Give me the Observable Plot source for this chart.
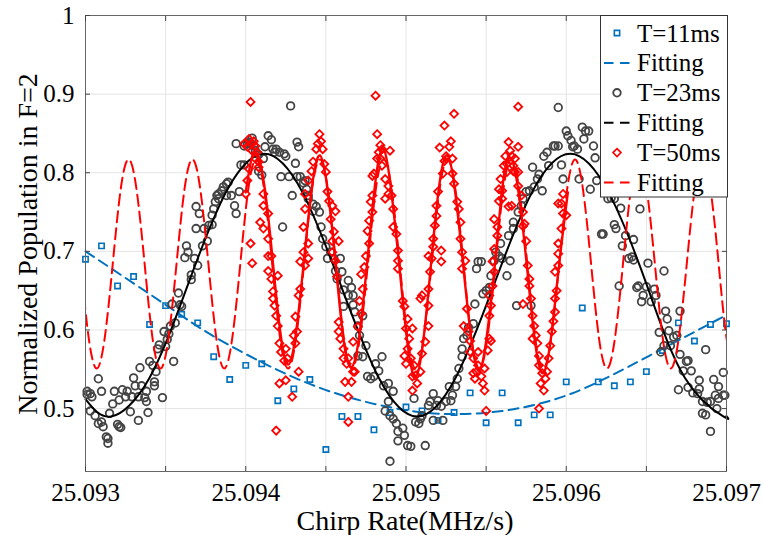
<!DOCTYPE html>
<html><head><meta charset="utf-8">
<script src="https://cdn.jsdelivr.net/npm/d3@7"></script>
<script src="https://cdn.jsdelivr.net/npm/@observablehq/plot@0.6"></script>
<style>
body{margin:0;background:#fff}
svg{display:block}
svg text{font-family:"Liberation Serif","Times New Roman",Times,serif !important;}
</style>
</head><body><div id="chart"></div>
<script>
const FONT = '"Liberation Serif","Times New Roman",Times,serif';
const xLabelTicks = [25.093, 25.094, 25.095, 25.096, 25.097];
const xMinorTicks = [25.093, 25.0935, 25.094, 25.0945, 25.095, 25.0955, 25.096, 25.0965, 25.097];
const yTicks = [0.5, 0.6, 0.7, 0.8, 0.9, 1];
const xTitle = "Chirp Rate(MHz/s)";
const yTitle = "Normalized Population in F=2";
const legendLabels = ["T=11ms", "Fitting", "T=23ms", "Fitting", "T=50ms", "Fitting"];

// T=11ms data
const blueX = [25.0930,25.0931,25.0932,25.0933,25.0934,25.0935,25.0936,25.0937,25.0938,25.0939,25.0940,25.0941,25.0942,25.0943,25.0944,25.0945,25.0946,25.0947,25.0948,25.0949,25.0950,25.0951,25.0952,25.0953,25.0954,25.0955,25.0956,25.0957,25.0958,25.0959,25.0960,25.0961,25.0962,25.0963,25.0964,25.0965,25.0966,25.0967,25.0968,25.0969,25.0970];
const blueY = [0.690,0.707,0.656,0.668,0.607,0.631,0.620,0.609,0.566,0.537,0.555,0.557,0.510,0.525,0.537,0.448,0.490,0.490,0.473,0.495,0.502,0.497,0.485,0.495,0.520,0.482,0.520,0.482,0.492,0.492,0.534,0.628,0.534,0.529,0.534,0.547,0.574,0.609,0.586,0.607,0.608];
// T=11ms fitting
const blueFit = [[25.0930,0.700],[25.0935,0.632],[25.0938,0.592],[25.0942,0.549],[25.0946,0.517],[25.0950,0.498],[25.0953,0.493],[25.0956,0.497],[25.0959,0.510],[25.0962,0.534],[25.0966,0.576],[25.0970,0.619]];

// T=23ms data
const grayPts = [
[25.09301,0.522],[25.09303,0.519],[25.09301,0.518],[25.09304,0.515],[25.09308,0.538],[25.09310,0.522],[25.09303,0.497],[25.09306,0.491],[25.09308,0.481],[25.09310,0.483],[25.09311,0.477],[25.09313,0.464],[25.09314,0.456],[25.09314,0.462],[25.09315,0.494],[25.09317,0.506],[25.09318,0.522],[25.09320,0.480],[25.09321,0.477],[25.09322,0.476],[25.09321,0.511],[25.09323,0.524],[25.09325,0.515],[25.09326,0.522],[25.09328,0.496],[25.09329,0.515],[25.09330,0.539],[25.09331,0.529],[25.09333,0.485],[25.09333,0.515],[25.09334,0.552],[25.09335,0.529],[25.09337,0.514],[25.09338,0.509],[25.09339,0.495],[25.09338,0.522],[25.09340,0.560],[25.09342,0.555],[25.09343,0.534],[25.09343,0.529],[25.09344,0.547],[25.09345,0.576],[25.09348,0.514],[25.09346,0.581],[25.09349,0.598],[25.09350,0.579],[25.09351,0.588],[25.09352,0.595],[25.09353,0.605],[25.09355,0.560],[25.09354,0.633],[25.09356,0.609],[25.09358,0.647],[25.09359,0.632],[25.09360,0.630],[25.09362,0.692],[25.09363,0.707],[25.09364,0.699],[25.09366,0.670],[25.09366,0.664],[25.09368,0.691],[25.09370,0.682],[25.09369,0.729],[25.09369,0.757],[25.09371,0.748],[25.09373,0.707],[25.09374,0.729],[25.09376,0.713],[25.09377,0.733],[25.09379,0.734],[25.09379,0.746],[25.09380,0.754],[25.09382,0.771],[25.09381,0.763],
[25.09383,0.767],[25.09383,0.773],[25.09385,0.777],[25.09386,0.782],[25.09388,0.786],[25.09389,0.788],[25.09388,0.771],[25.09391,0.771],[25.09393,0.758],[25.09394,0.748],[25.09396,0.776],[25.09394,0.837],[25.09397,0.810],[25.09399,0.810],[25.09399,0.834],[25.09401,0.837],[25.09402,0.839],[25.09404,0.844],[25.09405,0.834],[25.09406,0.828],[25.09408,0.823],[25.09408,0.802],[25.09410,0.797],[25.09411,0.818],[25.09412,0.833],[25.09414,0.847],[25.09416,0.842],[25.09417,0.830],[25.09418,0.826],[25.09419,0.830],[25.09421,0.826],[25.09422,0.795],[25.09423,0.731],[25.09424,0.824],[25.09425,0.821],[25.09427,0.795],[25.09428,0.885],[25.09429,0.771],[25.09431,0.812],[25.09432,0.839],[25.09433,0.833],[25.09432,0.795],[25.09434,0.795],[25.09436,0.787],[25.09437,0.790],[25.09438,0.779],[25.09439,0.771],[25.09439,0.767],[25.09442,0.760],[25.09442,0.751],[25.09444,0.757],[25.09446,0.750],[25.09447,0.731],[25.09448,0.716],[25.09450,0.706],[25.09451,0.691],[25.09453,0.699],[25.09455,0.691],[25.09456,0.675],[25.09457,0.665],[25.09459,0.691],[25.09460,0.674],[25.09461,0.651],[25.09461,0.630],[25.09464,0.644],[25.09464,0.663],
[25.09466,0.654],[25.09467,0.644],[25.09467,0.632],[25.09468,0.623],[25.09470,0.605],[25.09471,0.593],[25.09473,0.618],[25.09475,0.580],[25.09470,0.567],[25.09473,0.566],[25.09476,0.541],[25.09478,0.538],[25.09480,0.541],[25.09481,0.557],[25.09483,0.548],[25.09485,0.566],[25.09486,0.529],[25.09489,0.532],[25.09489,0.509],[25.09492,0.522],[25.09487,0.497],[25.09490,0.491],[25.09492,0.487],[25.09494,0.481],[25.09495,0.471],[25.09495,0.459],[25.09498,0.475],[25.09499,0.466],[25.09501,0.453],[25.09503,0.452],[25.09490,0.433],[25.09505,0.513],[25.09506,0.483],[25.09508,0.481],[25.09509,0.487],[25.09510,0.491],[25.09512,0.453],[25.09514,0.504],[25.09515,0.509],[25.09517,0.519],[25.09517,0.485],[25.09519,0.504],[25.09520,0.510],[25.09522,0.503],[25.09523,0.485],[25.09525,0.509],[25.09527,0.528],[25.09528,0.510],[25.09529,0.517],[25.09531,0.528],[25.09532,0.538],[25.09533,0.551],[25.09535,0.566],[25.09535,0.576],[25.09536,0.589],[25.09538,0.593],[25.09539,0.603],[25.09542,0.608],[25.09543,0.633],[25.09544,0.678],[25.09545,0.687],
[25.09547,0.687],[25.09548,0.646],[25.09550,0.650],[25.09552,0.654],[25.09553,0.669],[25.09555,0.688],[25.09556,0.699],[25.09558,0.694],[25.09559,0.710],[25.09560,0.691],[25.09563,0.669],[25.09564,0.720],[25.09565,0.688],[25.09567,0.729],[25.09567,0.737],[25.09569,0.631],[25.09570,0.750],[25.09572,0.758],[25.09573,0.767],[25.09575,0.776],[25.09577,0.777],[25.09578,0.631],[25.09579,0.807],[25.09580,0.782],[25.09582,0.792],[25.09583,0.798],[25.09585,0.777],[25.09586,0.821],[25.09588,0.826],[25.09589,0.809],[25.09592,0.834],[25.09593,0.834],[25.09595,0.883],[25.09597,0.810],[25.09595,0.834],[25.09598,0.792],[25.09600,0.853],[25.09601,0.847],[25.09603,0.841],[25.09604,0.833],[25.09605,0.834],[25.09607,0.830],[25.09608,0.792],[25.09610,0.858],[25.09611,0.843],[25.09612,0.853],[25.09614,0.853],[25.09615,0.779],[25.09617,0.834],[25.09618,0.819],[25.09619,0.790],[25.09622,0.722],[25.09626,0.767],
[25.09628,0.768],[25.09630,0.767],[25.09634,0.755],[25.09646,0.754],[25.09623,0.722],[25.09630,0.734],[25.09631,0.729],[25.09637,0.720],[25.09635,0.707],[25.09642,0.715],[25.09639,0.691],[25.09641,0.693],[25.09642,0.689],[25.09651,0.685],[25.09661,0.675],[25.09633,0.656],[25.09644,0.654],[25.09645,0.656],[25.09650,0.655],[25.09655,0.652],[25.09648,0.644],[25.09647,0.636],[25.09653,0.636],[25.09656,0.644],[25.09662,0.624],[25.09663,0.614],[25.09671,0.624],[25.09658,0.597],[25.09664,0.599],[25.09669,0.593],[25.09667,0.591],[25.09665,0.580],[25.09659,0.572],[25.09661,0.580],[25.09671,0.569],[25.09675,0.560],[25.09676,0.561],[25.09673,0.548],[25.09678,0.548],[25.09687,0.575],[25.09670,0.524],[25.09676,0.527],[25.09679,0.520],[25.09682,0.519],[25.09683,0.525],[25.09683,0.536],[25.09692,0.537],[25.09695,0.528],[25.09698,0.546],[25.09698,0.517],[25.09695,0.513],[25.09693,0.517],[25.09699,0.517],[25.09685,0.509],[25.09688,0.508],[25.09690,0.509],[25.09694,0.500],[25.09685,0.494],[25.09687,0.492],[25.09690,0.471]
];
// T=23ms fitting
const blackFit = [[25.093000,0.512],[25.093160,0.490],[25.093399,0.539],[25.093638,0.657],[25.093876,0.775],[25.094115,0.824],[25.094354,0.775],[25.094593,0.657],[25.094831,0.539],[25.095070,0.490],[25.095309,0.539],[25.095548,0.657],[25.095786,0.775],[25.096025,0.824],[25.096264,0.775],[25.096503,0.657],[25.096741,0.539],[25.096980,0.490],[25.097000,0.4905]];

// T=50ms data
const redPts = [
[25.09400,0.773],[25.09399,0.837],[25.09401,0.833],[25.09403,0.890],[25.09402,0.843],[25.09404,0.837],[25.09404,0.828],[25.09405,0.840],[25.09406,0.834],[25.09407,0.826],[25.09406,0.818],[25.09408,0.807],[25.09408,0.814],[25.09402,0.805],[25.09401,0.790],[25.09403,0.710],[25.09404,0.685],[25.09411,0.773],[25.09411,0.758],[25.09409,0.737],[25.09411,0.729],[25.09414,0.748],[25.09414,0.716],[25.09414,0.694],[25.09416,0.694],[25.09414,0.675],[25.09416,0.665],[25.09417,0.649],[25.09417,0.640],[25.09418,0.631],[25.09420,0.669],[25.09419,0.618],[25.09420,0.605],[25.09421,0.583],[25.09422,0.572],[25.09421,0.532],[25.09424,0.561],[25.09425,0.576],[25.09426,0.564],[25.09425,0.536],[25.09429,0.515],[25.09419,0.472],[25.09431,0.583],[25.09430,0.593],[25.09432,0.598],[25.09433,0.547],[25.09431,0.617],[25.09433,0.644],[25.09434,0.652],[25.09434,0.687],[25.09436,0.699],[25.09437,0.682],[25.09439,0.691],[25.09439,0.710],[25.09436,0.731],[25.09437,0.754],[25.09437,0.773],[25.09439,0.790],[25.09441,0.802],[25.09442,0.814],[25.09444,0.830],[25.09445,0.837],[25.09446,0.849],[25.09447,0.840],[25.09448,0.830],[25.09449,0.811],[25.09450,0.801],[25.09451,0.776],[25.09452,0.764],[25.09454,0.758],[25.09453,0.741],[25.09455,0.725],[25.09456,0.751],[25.09454,0.713],[25.09454,0.699],[25.09456,0.688],[25.09458,0.713],[25.09457,0.668],[25.09458,0.610],[25.09458,0.598],[25.09459,0.589],[25.09461,0.576],[25.09461,0.564],[25.09463,0.557],[25.09462,0.534],[25.09464,0.483],
[25.09464,0.515],[25.09466,0.534],[25.09464,0.564],[25.09467,0.547],[25.09468,0.547],[25.09467,0.585],[25.09470,0.604],[25.09472,0.621],[25.09471,0.637],[25.09473,0.652],[25.09472,0.671],[25.09474,0.680],[25.09475,0.694],[25.09477,0.710],[25.09476,0.726],[25.09477,0.739],[25.09479,0.750],[25.09478,0.763],[25.09479,0.771],[25.09480,0.799],[25.09479,0.796],[25.09482,0.818],[25.09483,0.826],[25.09484,0.835],[25.09482,0.849],[25.09481,0.898],[25.09485,0.830],[25.09484,0.818],[25.09485,0.809],[25.09487,0.792],[25.09489,0.783],[25.09489,0.773],[25.09487,0.767],[25.09490,0.828],[25.09491,0.771],[25.09492,0.754],[25.09492,0.731],[25.09494,0.722],[25.09495,0.701],[25.09495,0.688],[25.09495,0.678],[25.09498,0.637],[25.09499,0.630],[25.09501,0.614],[25.09500,0.602],[25.09502,0.589],[25.09501,0.576],[25.09499,0.567],[25.09500,0.557],[25.09504,0.602],[25.09503,0.564],[25.09505,0.555],[25.09504,0.541],[25.09506,0.542],[25.09504,0.523],[25.09507,0.532],[25.09509,0.547],[25.09510,0.570],[25.09512,0.585],[25.09514,0.605],[25.09509,0.640],[25.09510,0.644],[25.09514,0.631],[25.09514,0.652],[25.09515,0.674],[25.09516,0.691],[25.09514,0.694],[25.09517,0.706],[25.09517,0.716],[25.09518,0.733],[25.09519,0.745],[25.09519,0.758],[25.09520,0.776],[25.09521,0.832],[25.09522,0.701],[25.09522,0.687],[25.09523,0.799],[25.09524,0.815],[25.09524,0.860],[25.09525,0.821],[25.09527,0.833],[25.09528,0.840],[25.09529,0.818],[25.09530,0.875],[25.09529,0.799],[25.09530,0.786],[25.09532,0.763],[25.09533,0.754],[25.09534,0.737],[25.09534,0.716],[25.09535,0.699],[25.09535,0.678],[25.09537,0.688],[25.09536,0.605],[25.09538,0.627],[25.09539,0.598],[25.09540,0.586],[25.09540,0.572],[25.09542,0.564],[25.09542,0.545],[25.09543,0.538],[25.09545,0.555],[25.09545,0.572],
[25.09544,0.547],[25.09547,0.541],[25.09548,0.532],[25.09549,0.523],[25.09550,0.497],[25.09549,0.551],[25.09551,0.574],[25.09552,0.589],[25.09553,0.586],[25.09552,0.618],[25.09553,0.631],[25.09552,0.644],[25.09554,0.656],[25.09555,0.674],[25.09554,0.687],[25.09555,0.703],[25.09555,0.741],[25.09557,0.720],[25.09557,0.731],[25.09558,0.764],[25.09558,0.779],[25.09559,0.792],[25.09560,0.777],[25.09560,0.767],[25.09561,0.809],[25.09562,0.821],[25.09563,0.801],[25.09563,0.811],[25.09564,0.839],[25.09565,0.828],[25.09566,0.821],[25.09567,0.809],[25.09567,0.802],[25.09568,0.818],[25.09568,0.801],[25.09570,0.833],[25.09570,0.884],[25.09570,0.801],[25.09566,0.758],[25.09564,0.757],[25.09570,0.783],[25.09572,0.771],[25.09573,0.750],[25.09573,0.732],[25.09574,0.735],[25.09573,0.633],[25.09575,0.713],[25.09576,0.682],[25.09577,0.665],[25.09577,0.656],[25.09578,0.640],[25.09579,0.618],[25.09580,0.605],[25.09579,0.589],[25.09581,0.593],[25.09582,0.583],[25.09583,0.567],[25.09583,0.555],[25.09585,0.545],[25.09584,0.532],[25.09586,0.523],[25.09587,0.538],[25.09583,0.500],[25.09588,0.547],[25.09589,0.564],[25.09590,0.580],[25.09591,0.598],[25.09592,0.611],[25.09593,0.623],[25.09593,0.640],[25.09594,0.650],[25.09593,0.674],[25.09595,0.682],[25.09595,0.697],[25.09595,0.710],[25.09597,0.729],[25.09598,0.748],[25.09597,0.761],[25.09595,0.761],[25.09598,0.773],[25.09600,0.746]
];
// T=50ms connecting line (smoothed data)
const redLine = [[25.094000,0.775],[25.094030,0.812],[25.094065,0.826],[25.094115,0.785],[25.094165,0.695],[25.094214,0.600],[25.094264,0.556],[25.094314,0.597],[25.094364,0.690],[25.094413,0.782],[25.094463,0.822],[25.094513,0.775],[25.094563,0.680],[25.094612,0.585],[25.094662,0.553],[25.094712,0.598],[25.094762,0.695],[25.094811,0.792],[25.094861,0.830],[25.094911,0.772],[25.094961,0.676],[25.095010,0.582],[25.095060,0.540],[25.095110,0.590],[25.095160,0.692],[25.095209,0.786],[25.095259,0.822],[25.095309,0.772],[25.095359,0.678],[25.095408,0.588],[25.095458,0.548],[25.095508,0.598],[25.095558,0.690],[25.095607,0.790],[25.095657,0.818],[25.095707,0.768],[25.095757,0.676],[25.095806,0.584],[25.095856,0.545],[25.095906,0.592],[25.095956,0.684],[25.096010,0.775]];
// T=50ms fitting
const redFit = [[25.092970,0.684],[25.093020,0.590],
[25.093070,0.551],[25.093120,0.590],[25.093170,0.684],[25.093219,0.778],[25.093269,0.817],[25.093319,0.778],[25.093369,0.684],[25.093418,0.590],
[25.093468,0.551],[25.093518,0.590],[25.093568,0.684],[25.093617,0.778],[25.093667,0.817],[25.093717,0.778],[25.093767,0.684],[25.093816,0.590],
[25.093866,0.551],[25.093916,0.590],[25.093966,0.684],[25.094015,0.778],[25.094065,0.817],[25.094115,0.778],[25.094165,0.684],[25.094214,0.590],
[25.094264,0.551],[25.094314,0.590],[25.094364,0.684],[25.094413,0.778],[25.094463,0.817],[25.094513,0.778],[25.094563,0.684],[25.094612,0.590],
[25.094662,0.551],[25.094712,0.590],[25.094762,0.684],[25.094811,0.778],[25.094861,0.817],[25.094911,0.778],[25.094961,0.684],[25.095010,0.590],
[25.095060,0.551],[25.095110,0.590],[25.095160,0.684],[25.095209,0.778],[25.095259,0.817],[25.095309,0.778],[25.095359,0.684],[25.095408,0.590],
[25.095458,0.551],[25.095508,0.590],[25.095558,0.684],[25.095607,0.778],[25.095657,0.817],[25.095707,0.778],[25.095757,0.684],[25.095806,0.590],
[25.095856,0.551],[25.095906,0.590],[25.095956,0.684],[25.096005,0.778],[25.096055,0.817],[25.096105,0.778],[25.096155,0.684],[25.096204,0.590],
[25.096254,0.551],[25.096304,0.590],[25.096354,0.684],[25.096403,0.778],[25.096453,0.817],[25.096503,0.778],[25.096553,0.684],[25.096602,0.590],
[25.096652,0.551],[25.096702,0.590],[25.096752,0.684],[25.096801,0.778],[25.096851,0.817],[25.096901,0.778],[25.096951,0.684],[25.097000,0.590],
[25.097050,0.551]];

const BLUE = "#0072BD", RED = "#FF0000", GRAY = "#444444";
const blue = blueX.map((x, i) => ({x, y: blueY[i]}));
const X = d => d[0], Y = d => d[1];

const chart = Plot.plot({
  width: 763, height: 535,
  marginLeft: 85, marginRight: 37, marginTop: 15, marginBottom: 64,
  style: {fontFamily: FONT, fontSize: "25px", color: "#000", background: "#fff", overflow: "visible"},
  x: {domain: [25.093, 25.097]},
  y: {domain: [0.42, 1]},
  marks: [
    Plot.gridX(xMinorTicks, {stroke: "#e4e4e4", strokeOpacity: 1, strokeWidth: 1}),
    Plot.gridY(yTicks, {stroke: "#e4e4e4", strokeOpacity: 1, strokeWidth: 1}),
    Plot.dot(blue, {x: "x", y: "y", symbol: "square", r: 3, stroke: BLUE, strokeWidth: 1.6}),
    Plot.line(blueFit, {x: X, y: Y, curve: "natural", stroke: BLUE, strokeWidth: 2, strokeDasharray: "10,6"}),
    Plot.dot(grayPts, {x: X, y: Y, symbol: "circle", r: 3.8, stroke: GRAY, strokeWidth: 1.8}),
    Plot.line(blackFit, {x: X, y: Y, curve: "natural", stroke: "#000", strokeWidth: 2}),
    Plot.line(redFit, {x: X, y: Y, curve: "natural", stroke: RED, strokeWidth: 2, strokeDasharray: "11,6", clip: true}),
    Plot.line(redLine, {x: X, y: Y, curve: "natural", stroke: RED, strokeWidth: 2.4}),
    Plot.dot(redPts, {x: X, y: Y, symbol: "diamond2", r: 3.6, stroke: RED, strokeWidth: 1.8}),
    Plot.frame({stroke: "#666", strokeWidth: 1}),
    Plot.axisX(xLabelTicks, {anchor: "bottom", tickSize: 0, tickPadding: 12, tickFormat: d3.format(".3f"), label: null, fontSize: 25}),
    Plot.axisX(xMinorTicks, {anchor: "bottom", tickSize: -5, tickFormat: () => "", label: null, stroke: "#444"}),
    Plot.axisX(xMinorTicks, {anchor: "top", tickSize: -5, tickFormat: () => "", label: null, stroke: "#444"}),
    Plot.axisY(yTicks, {anchor: "left", tickSize: 0, tickPadding: 11, tickFormat: d => d === 1 ? "1" : d.toFixed(1), label: null, fontSize: 25}),
    Plot.axisY(yTicks, {anchor: "left", tickSize: -5, tickFormat: () => "", label: null, stroke: "#444"}),
    Plot.axisY(yTicks, {anchor: "right", tickSize: -5, tickFormat: () => "", label: null, stroke: "#444"})
  ]
});
document.getElementById("chart").appendChild(chart);
d3.select(chart).selectAll("text").style("font-family", FONT);

// axis titles
const svg = d3.select(chart);
svg.append("text").attr("x", 405).attr("y", 530).attr("text-anchor", "middle")
  .style("font-family", FONT).style("font-size", "28px").attr("fill", "#000").text(xTitle);
svg.append("text").attr("transform", "translate(37,244) rotate(-90)").attr("text-anchor", "middle")
  .style("font-family", FONT).style("font-size", "28px").attr("fill", "#000").text(yTitle);

// legend
const lg = svg.append("g");
lg.append("rect").attr("x", 600.5).attr("y", 15.5).attr("width", 127).attr("height", 181.5)
  .attr("fill", "#fff").attr("stroke", "#333").attr("stroke-width", 1);
const kinds = [
  {type: "square", color: BLUE}, {type: "dash", color: BLUE},
  {type: "circle", color: GRAY}, {type: "dash", color: "#000"},
  {type: "diamond", color: RED}, {type: "dash", color: RED}
];
kinds.forEach((k, i) => {
  const cy = 33 + i * 29.9;
  if (k.type === "dash") {
    lg.append("line").attr("x1", 604).attr("x2", 630).attr("y1", cy).attr("y2", cy)
      .attr("stroke", k.color).attr("stroke-width", 2).attr("stroke-dasharray", "9.5,6.5");
  } else {
    const sym = k.type === "square" ? d3.symbolSquare : k.type === "circle" ? d3.symbolCircle : d3.symbolDiamond2;
    const r = k.type === "square" ? 3 : k.type === "circle" ? 3.8 : 3.6;
    lg.append("path").attr("d", d3.symbol(sym, Math.PI * r * r)()).attr("transform", `translate(617,${cy})`)
      .attr("fill", "none").attr("stroke", k.color).attr("stroke-width", k.type === "circle" ? 1.8 : 1.6);
  }
  lg.append("text").attr("x", 637).attr("y", cy).attr("dy", "0.34em").attr("text-anchor", "start")
    .style("font-family", FONT).style("font-size", "25px").attr("fill", "#000").text(legendLabels[i]);
});
</script></body></html>
